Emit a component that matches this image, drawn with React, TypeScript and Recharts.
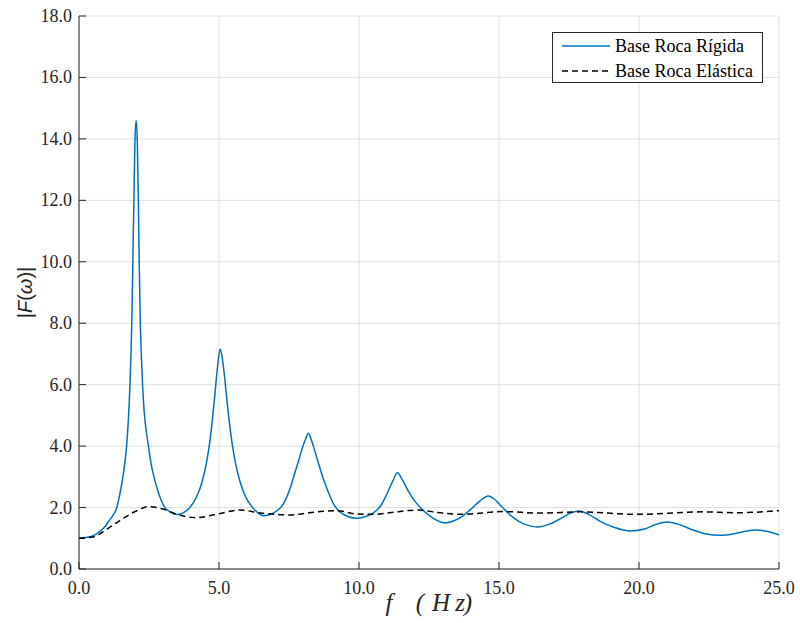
import React from 'react';
import { LineChart, Line, XAxis, YAxis, CartesianGrid, Legend } from 'recharts';

// Frequency response |F(ω)| for a rigid rock base
const freqRigid = [
  0, 0.3, 0.6, 0.9, 1.1, 1.25, 1.35, 1.45, 1.55, 1.63, 1.7, 1.76, 1.82, 1.86, 1.89, 1.92, 1.96,
  2.0, 2.04, 2.08, 2.12, 2.15, 2.19, 2.23, 2.27, 2.33, 2.4, 2.48, 2.58, 2.69, 2.85, 3.07, 3.25,
  3.5, 3.75, 4.0, 4.2, 4.4, 4.55, 4.65, 4.75, 4.85, 4.95, 5.04, 5.12, 5.2, 5.3, 5.4, 5.5, 5.6,
  5.75, 5.95, 6.2, 6.4, 6.6, 6.9, 7.1, 7.22, 7.4, 7.55, 7.7, 7.85, 7.98, 8.1, 8.19, 8.28, 8.37,
  8.5, 8.65, 8.8, 8.95, 9.1, 9.3, 9.6, 9.92, 10.2, 10.5, 10.77, 11.0, 11.2, 11.37, 11.55, 11.75,
  12.0, 12.24, 12.6, 13.07, 13.4, 13.7, 14.0, 14.3, 14.62, 14.9, 15.15, 15.5, 15.9, 16.4, 16.8,
  17.2, 17.55, 17.86, 18.2, 18.6, 19.1, 19.7, 20.2, 20.6, 21.0, 21.4, 21.9, 22.4, 22.9, 23.4,
  23.8, 24.2, 24.6, 25.0,
];
const ampRigid = [
  1.0, 1.03, 1.13, 1.35, 1.6, 1.8, 2.0, 2.4, 2.9, 3.4, 4.0, 4.8, 6.0, 7.1, 8.2, 9.8, 12.0,
  14.0, 14.6, 14.0, 12.0, 10.0, 8.0, 6.9, 6.0, 5.1, 4.5, 4.0, 3.4, 2.95, 2.45, 2.0, 1.86,
  1.77, 1.84, 2.05, 2.35, 2.85, 3.45, 4.0, 4.75, 5.65, 6.6, 7.15, 6.85, 6.25, 5.35, 4.55, 3.9, 3.4,
  2.85, 2.35, 2.0, 1.82, 1.73, 1.8, 1.92, 2.02, 2.3, 2.65, 3.1, 3.55, 3.95, 4.25, 4.42, 4.25, 4.0,
  3.6, 3.15, 2.75, 2.4, 2.1, 1.87, 1.71, 1.65, 1.7, 1.82, 2.05, 2.45, 2.85, 3.13, 2.9, 2.55,
  2.2, 1.95, 1.68, 1.5, 1.57, 1.72, 1.95, 2.2, 2.38, 2.22, 1.98, 1.68, 1.46, 1.37, 1.46,
  1.64, 1.82, 1.89, 1.78, 1.56, 1.36, 1.24, 1.3, 1.45, 1.53, 1.46, 1.28, 1.14, 1.1, 1.15,
  1.23, 1.27, 1.22, 1.11,
];

// Frequency response |F(ω)| for an elastic rock base
const freqElastic = [
  0, 0.5, 1.0, 1.5, 2.0, 2.5, 3.0, 3.5, 4.2, 5.0, 5.75, 6.5, 7.5, 8.7, 9.2, 9.92, 10.6, 11.1,
  12.1, 12.8, 13.7, 15.1, 16.5, 17.9, 19.9, 22.3, 23.5, 25.0,
];
const ampElastic = [
  1.0, 1.04, 1.3, 1.6, 1.87, 2.03, 1.95, 1.78, 1.67, 1.8, 1.92, 1.82, 1.76, 1.88, 1.9, 1.79, 1.78,
  1.83, 1.92, 1.84, 1.78, 1.87, 1.82, 1.86, 1.78, 1.86, 1.83, 1.9,
];

const xTicks = [0, 5, 10, 15, 20, 25];
const yTicks = [0, 2, 4, 6, 8, 10, 12, 14, 16, 18];

const seriesNames = ['Base Roca Rígida', 'Base Roca Elástica'];

const rigidData = freqRigid.map((f, i) => ({ f, v: ampRigid[i] }));
const elasticData = freqElastic.map((f, i) => ({ f, v: ampElastic[i] }));

const WIDTH = 800;
const HEIGHT = 623;
const PLOT = { left: 79, right: 779, top: 16, bottom: 569 };
const TICK_LEN = 7;

const AXIS_COLOR = '#262626';
const BLUE = '#0072BD';
const SERIF = '"Liberation Serif", "Times New Roman", serif';
const fmt = (v: number) => v.toFixed(1);

// Inward tick mark plus label for the bottom axis
const BottomTick = (props: any) => {
  const x = props.payload.coordinate;
  return (
    <g>
      <line x1={x} x2={x} y1={PLOT.bottom} y2={PLOT.bottom - TICK_LEN} stroke={AXIS_COLOR} strokeWidth={1} />
      <text x={x} y={PLOT.bottom + 25} textAnchor="middle" fontFamily={SERIF} fontSize={18} fill={AXIS_COLOR}>
        {fmt(props.payload.value)}
      </text>
    </g>
  );
};

const TopTick = (props: any) => {
  const x = props.payload.coordinate;
  return <line x1={x} x2={x} y1={PLOT.top} y2={PLOT.top + TICK_LEN} stroke={AXIS_COLOR} strokeWidth={1} />;
};

const LeftTick = (props: any) => {
  const y = props.payload.coordinate;
  return (
    <g>
      <line x1={PLOT.left} x2={PLOT.left + TICK_LEN} y1={y} y2={y} stroke={AXIS_COLOR} strokeWidth={1} />
      <text x={PLOT.left - 7} y={y + 6} textAnchor="end" fontFamily={SERIF} fontSize={18} fill={AXIS_COLOR}>
        {fmt(props.payload.value)}
      </text>
    </g>
  );
};

const RightTick = (props: any) => {
  const y = props.payload.coordinate;
  return <line x1={PLOT.right} x2={PLOT.right - TICK_LEN} y1={y} y2={y} stroke={AXIS_COLOR} strokeWidth={1} />;
};

const XLabel = (props: any) => {
  const vb = props.viewBox || {};
  const cx = vb.x + vb.width / 2;
  const y = 611;
  return (
    <text y={y} fontFamily={SERIF} fontStyle="italic" fontSize={25} fill={AXIS_COLOR} textAnchor="middle">
      <tspan x={cx - 40}>f</tspan>
      <tspan x={cx - 9}>(</tspan>
      <tspan x={cx + 12}>H</tspan>
      <tspan x={cx + 31}>z</tspan>
      <tspan x={cx + 39}>)</tspan>
    </text>
  );
};

const YLabel = (props: any) => {
  const vb = props.viewBox || {};
  const cy = vb.y + vb.height / 2;
  const cx = 25;
  return (
    <text
      x={cx}
      y={cy}
      transform={`rotate(-90, ${cx}, ${cy})`}
      textAnchor="middle"
      dominantBaseline="central"
      fontFamily='"Liberation Sans", Arial, sans-serif'
      fontSize={20}
      fill={AXIS_COLOR}
    >
      |<tspan fontStyle="italic">F</tspan>(<tspan fontStyle="italic">ω</tspan>)|
    </text>
  );
};

const LegendBox = () => (
  <div style={{ width: 211, height: 51, boxSizing: 'border-box', border: `1px solid ${AXIS_COLOR}`, background: '#fff' }}>
    <svg width={209} height={49} style={{ display: 'block' }}>
      <line x1={9} x2={57} y1={13} y2={13} stroke={BLUE} strokeWidth={1.5} />
      <text x={62} y={13} dominantBaseline="central" fontFamily={SERIF} fontSize={18} fill="#000">
        {seriesNames[0]}
      </text>
      <line x1={9} x2={57} y1={38} y2={38} stroke="#000" strokeWidth={1.5} strokeDasharray="6 4" />
      <text x={62} y={38} dominantBaseline="central" fontFamily={SERIF} fontSize={18} fill="#000">
        {seriesNames[1]}
      </text>
    </svg>
  </div>
);

export default function App() {
  return (
    <div style={{ width: WIDTH, height: HEIGHT, overflow: 'hidden' }}>
      <style>{'body{margin:0;overflow:hidden}'}</style>
      <LineChart
        width={WIDTH}
        height={HEIGHT}
        margin={{ top: PLOT.top, right: WIDTH - PLOT.right, bottom: 0, left: 0 }}
      >
        <CartesianGrid stroke="#e0e0e0" strokeWidth={1} />
        <XAxis
          dataKey="f"
          type="number"
          domain={[0, 25]}
          ticks={xTicks}
          allowDataOverflow
          height={HEIGHT - PLOT.bottom}
          tick={BottomTick}
          tickLine={false}
          stroke={AXIS_COLOR}
          label={XLabel}
        />
        <XAxis
          xAxisId="top"
          orientation="top"
          type="number"
          domain={[0, 25]}
          ticks={xTicks}
          height={0}
          tick={TopTick}
          tickLine={false}
          stroke={AXIS_COLOR}
        />
        <YAxis
          type="number"
          domain={[0, 18]}
          ticks={yTicks}
          allowDataOverflow
          width={PLOT.left}
          tick={LeftTick}
          tickLine={false}
          stroke={AXIS_COLOR}
          label={YLabel}
        />
        <YAxis
          yAxisId="right"
          orientation="right"
          type="number"
          domain={[0, 18]}
          ticks={yTicks}
          width={0}
          tick={RightTick}
          tickLine={false}
          stroke={AXIS_COLOR}
        />
        <Legend
          layout="horizontal"
          verticalAlign="middle"
          align="center"
          wrapperStyle={{ position: 'absolute', left: 552, top: 32, width: 211, height: 51 }}
          content={LegendBox}
        />
        <Line
          data={rigidData}
          dataKey="v"
          name={seriesNames[0]}
          type="monotone"
          stroke={BLUE}
          strokeWidth={1.5}
          dot={false}
          activeDot={false}
          isAnimationActive={false}
        />
        <Line
          data={elasticData}
          dataKey="v"
          name={seriesNames[1]}
          type="monotone"
          stroke="#000"
          strokeWidth={1.5}
          strokeDasharray="6 4"
          dot={false}
          activeDot={false}
          isAnimationActive={false}
        />
      </LineChart>
    </div>
  );
}
